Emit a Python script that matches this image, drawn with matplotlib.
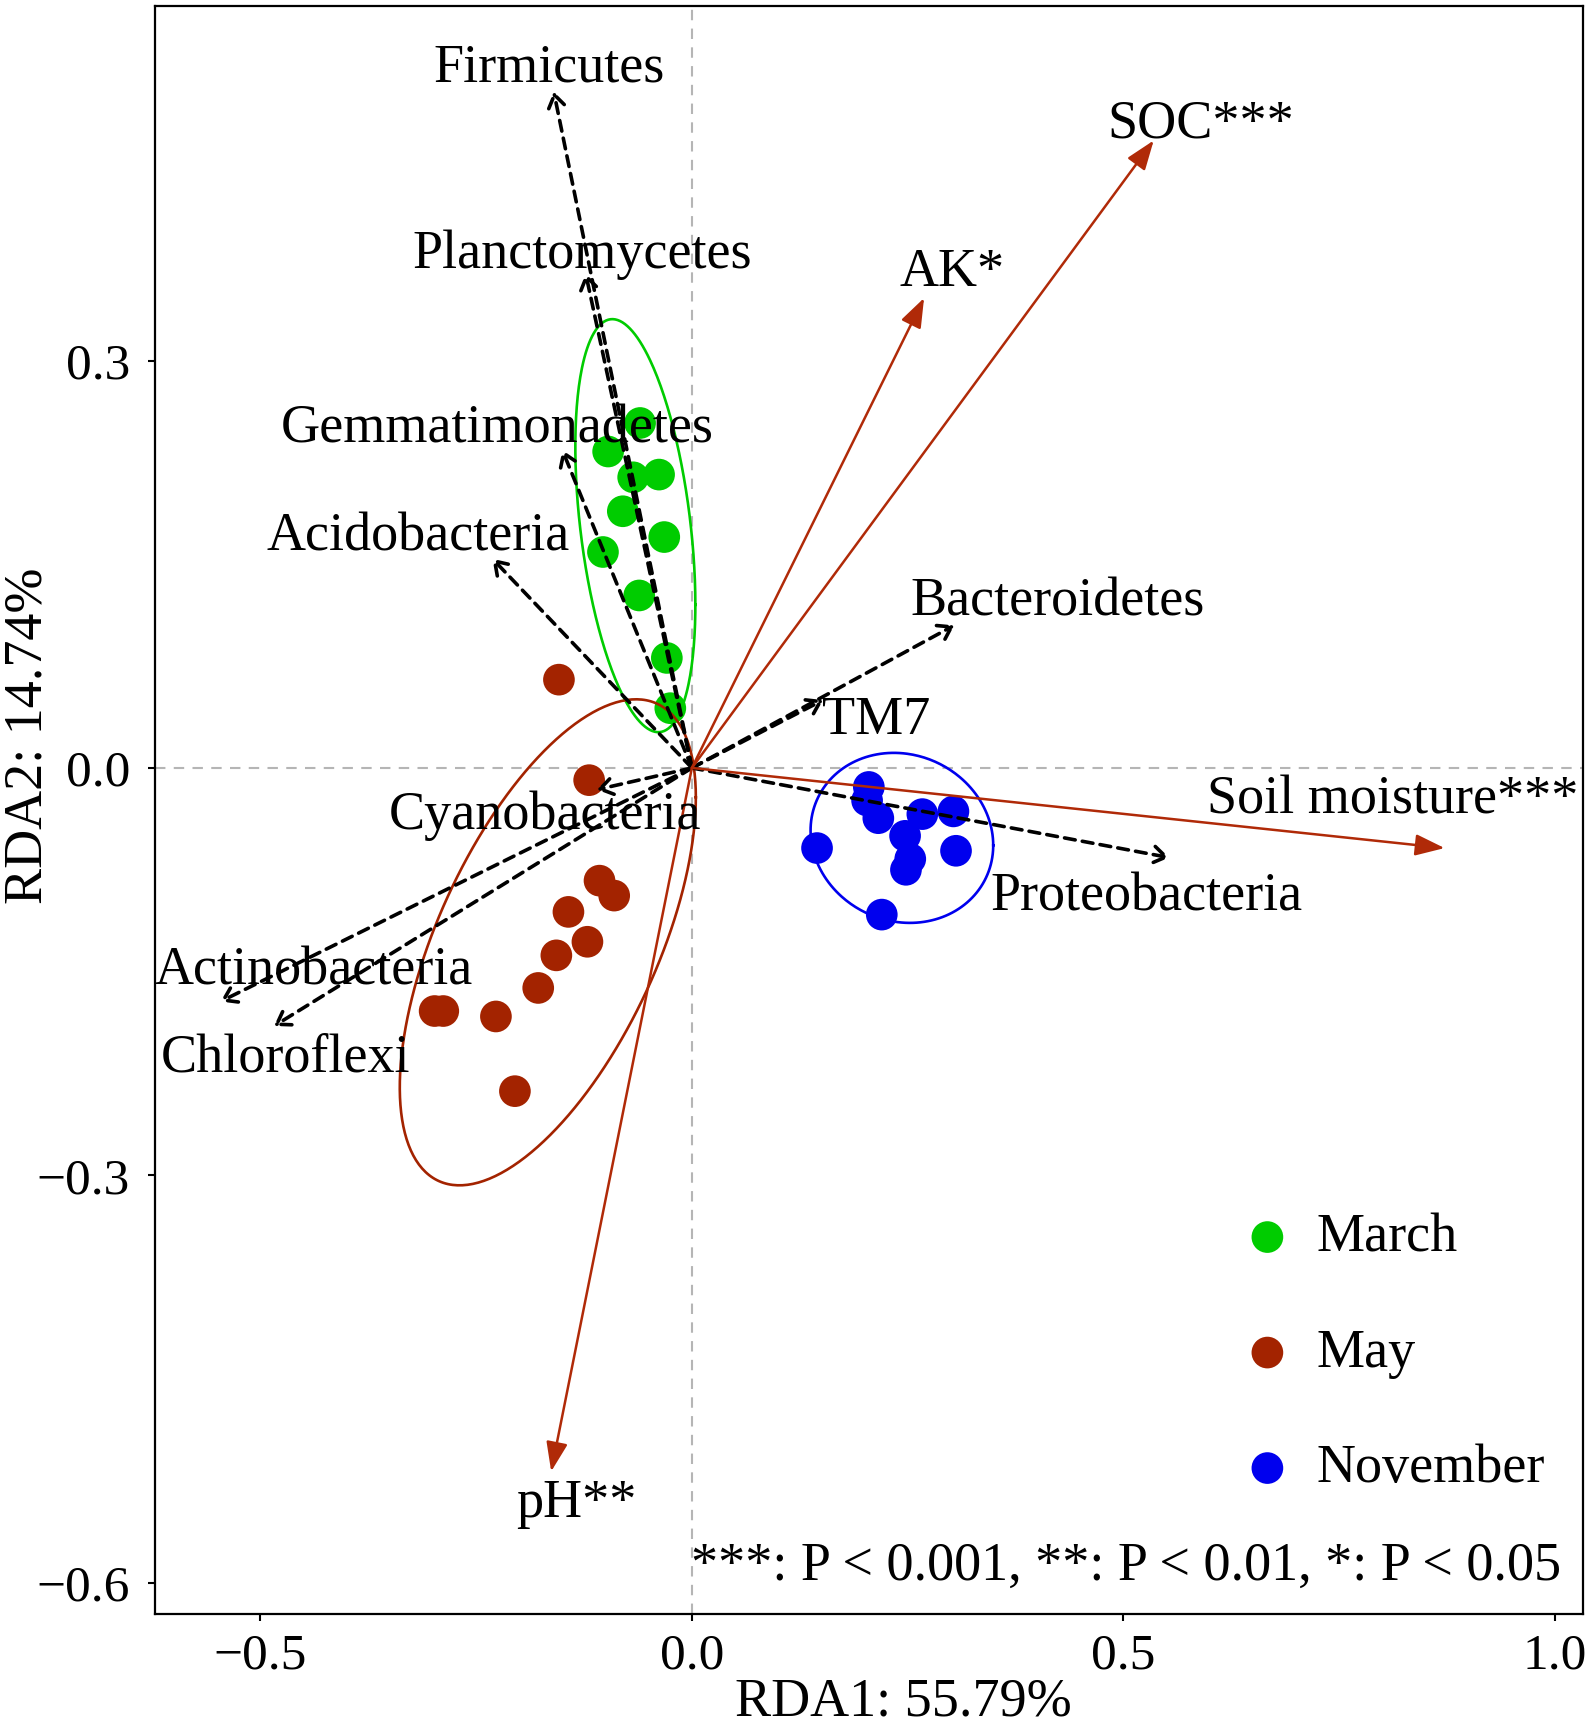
import numpy as np
import matplotlib
matplotlib.use("Agg")
from matplotlib import pyplot as plt

plt.rcParams['font.family'] = ['Liberation Serif', 'DejaVu Serif']

# sample scores (RDA1, RDA2)
march_rda1 = [-0.060, -0.097, -0.068, -0.038, -0.080, -0.032, -0.103, -0.061, -0.029, -0.025]
march_rda2 = [0.254, 0.233, 0.214, 0.216, 0.189, 0.170, 0.159, 0.127, 0.081, 0.044]
may_rda1 = [-0.154, -0.119, -0.107, -0.090, -0.143, -0.121, -0.157, -0.178, -0.227, -0.298, -0.288, -0.205]
may_rda2 = [0.065, -0.009, -0.083, -0.094, -0.106, -0.128, -0.138, -0.162, -0.183, -0.179, -0.179, -0.238]
nov_rda1 = [0.205, 0.203, 0.216, 0.267, 0.303, 0.145, 0.247, 0.253, 0.248, 0.306, 0.220]
nov_rda2 = [-0.014, -0.024, -0.037, -0.034, -0.032, -0.059, -0.050, -0.067, -0.075, -0.061, -0.108]

groups = ['March', 'May', 'November']
group_x = [march_rda1, may_rda1, nov_rda1]
group_y = [march_rda2, may_rda2, nov_rda2]
group_colors = ['#00CC00', '#A32300', '#0000EE']

# confidence ellipses: centre and shape matrix
ellipse_center = [(-0.0655, 0.1784), (-0.1669, -0.1284), (0.2433, -0.0515)]
ellipse_shape = [[[0.004834, -0.004053], [-0.004053, 0.023123]],
                 [[0.02941, 0.01831], [0.01831, 0.03202]],
                 [[0.011193, -0.000580], [-0.000580, 0.003918]]]

# species (phyla) loadings
species = ['Firmicutes', 'Planctomycetes', 'Gemmatimonadetes', 'Acidobacteria',
           'Bacteroidetes', 'TM7', 'Cyanobacteria', 'Proteobacteria',
           'Actinobacteria', 'Chloroflexi']
species_rda1 = [-0.160, -0.123, -0.150, -0.231, 0.304, 0.152, -0.110, 0.553, -0.546, -0.484]
species_rda2 = [0.498, 0.364, 0.234, 0.154, 0.105, 0.050, -0.016, -0.066, -0.172, -0.190]

# environmental factors
env_vars = ['SOC***', 'AK*', 'Soil moisture***', 'pH**']
env_rda1 = [0.535, 0.269, 0.872, -0.163]
env_rda2 = [0.462, 0.346, -0.059, -0.518]

x_ticks = [-0.5, 0.0, 0.5, 1.0]
x_tick_labels = ['\u22120.5', '0.0', '0.5', '1.0']
y_ticks = [-0.6, -0.3, 0.0, 0.3]
y_tick_labels = ['\u22120.6', '\u22120.3', '0.0', '0.3']

# label offsets from arrow tips, pixels (layout only)
species_label_offset = [(-5, 23), (-3, 19), (-65, 21), (-74, 22), (103, 23),
                        (53, -21), (-52, -26), (-23, -40), (93, 30), (11, -32)]
env_label_offset = [(47, 16), (28, 25), (-52, 48), (25, -32)]

FS = 39
TICK_FS = 37
ENV_COLOR = '#B02A08'


def ellipse_xy(center, shape, n=300):
    L = np.linalg.cholesky(np.array(shape))
    t = np.linspace(0, 2 * np.pi, n)
    pts = L @ np.vstack([np.cos(t), np.sin(t)])
    return center[0] + pts[0], center[1] + pts[1]


fig = plt.figure(figsize=(15.91, 17.29), dpi=100)
ax = fig.add_axes([0.0974, 0.0665, 0.8976, 0.93])

ax.axhline(0, color='#B5B5B5', lw=1.5, ls=(0, (5, 4)), zorder=0)
ax.axvline(0, color='#B5B5B5', lw=1.5, ls=(0, (5, 4)), zorder=0)

handles = []
for name, gx, gy, col in zip(groups, group_x, group_y, group_colors):
    h = ax.scatter(gx, gy, s=520, color=col, edgecolors='none', label=name, zorder=2)
    handles.append(h)

for c, S, col in zip(ellipse_center, ellipse_shape, group_colors):
    ex, ey = ellipse_xy(c, S)
    ax.plot(ex, ey, color=col, lw=1.9, zorder=3)

px2pt = 72 / 100
for name, x, y, off in zip(species, species_rda1, species_rda2, species_label_offset):
    ax.annotate('', xy=(x, y), xytext=(0, 0),
                arrowprops=dict(arrowstyle='->,head_length=0.45,head_width=0.3',
                                ls=(0, (3.0, 2.0)), lw=2.6, color='black',
                                shrinkA=0, shrinkB=0, mutation_scale=20), zorder=4)
    ax.annotate(name, xy=(x, y), xytext=(off[0] * px2pt, off[1] * px2pt),
                textcoords='offset points', ha='center', va='center',
                fontsize=FS, zorder=6)

for name, x, y, off in zip(env_vars, env_rda1, env_rda2, env_label_offset):
    ax.annotate('', xy=(x, y), xytext=(0, 0),
                arrowprops=dict(arrowstyle='-|>,head_length=0.9,head_width=0.33',
                                lw=1.8, color=ENV_COLOR, shrinkA=0, shrinkB=0,
                                mutation_scale=20), zorder=5)
    ax.annotate(name, xy=(x, y), xytext=(off[0] * px2pt, off[1] * px2pt),
                textcoords='offset points', ha='center', va='center',
                fontsize=FS, zorder=6)

ax.set_xlim(-0.622, 1.0324)
ax.set_ylim(-0.623, 0.561)
ax.set_xticks(x_ticks)
ax.set_xticklabels(x_tick_labels)
ax.set_yticks(y_ticks)
ax.set_yticklabels(y_tick_labels)
ax.tick_params(axis='both', direction='out', length=5, width=1.5, labelsize=TICK_FS, color='black')
ax.tick_params(axis='x', pad=9)
ax.tick_params(axis='y', pad=13)
for sp in ax.spines.values():
    sp.set_linewidth(1.6)
    sp.set_color('black')

ax.set_xlabel('RDA1: 55.79%', fontsize=FS)
ax.set_ylabel('RDA2: 14.74%', fontsize=FS)
ax.xaxis.set_label_coords(0.524, -0.039)
ax.yaxis.set_label_coords(-0.071, 0.546)

ax.legend(handles=handles, loc='center left', bbox_to_anchor=(0.760, 0.162),
          frameon=False, fontsize=FS, handlelength=1, handletextpad=0.40,
          labelspacing=1.2, borderpad=0, borderaxespad=0)

ax.text(0.985, 0.0294, '***: P < 0.001, **: P < 0.01, *: P < 0.05',
        transform=ax.transAxes, ha='right', va='center', fontsize=FS)

fig.savefig('out.png', dpi=100)
